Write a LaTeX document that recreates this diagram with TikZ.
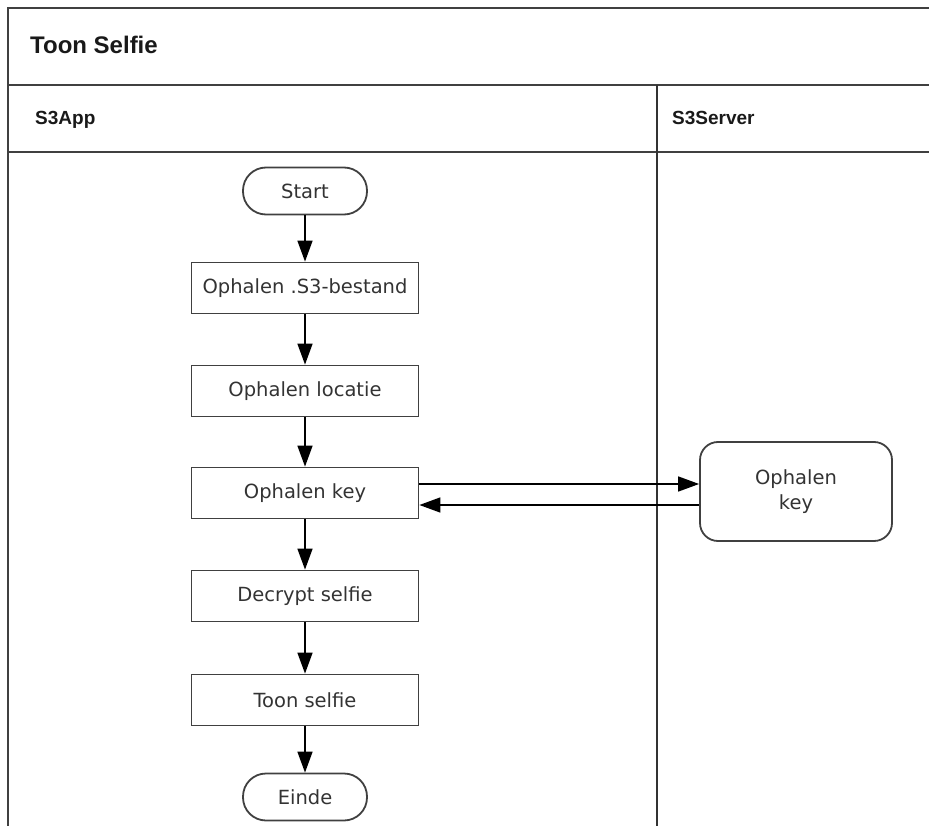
\documentclass[tikz,border=0pt]{standalone}
\usepackage{fontspec}
\setmainfont{DejaVu Sans}
\newfontfamily\headfont{Liberation Sans}
\usetikzlibrary{arrows.meta}

\begin{document}
\begin{tikzpicture}[x=1pt,y=-1pt,
  frame/.style={draw=black!75, line width=1.6pt},
  lane/.style={draw=black!80, line width=1.2pt},
  procbox/.style={draw=black!75, line width=1.8pt, minimum width=227pt, minimum height=51pt,
    inner sep=2pt, font=\fontsize{19.5}{25}\selectfont, text=black!80},
  terminal/.style={procbox, minimum width=124pt, minimum height=47pt, rounded corners=23pt},
  srvbox/.style={procbox, minimum width=192pt, minimum height=99pt, rounded corners=18pt, align=center},
  flow/.style={draw=black, line width=1.6pt, -{Triangle[width=15pt,length=21pt]}},
  titletext/.style={anchor=base west, inner sep=0pt, font=\headfont\bfseries\fontsize{24}{28}\selectfont, text=black!90},
  lanehead/.style={anchor=base west, inner sep=0pt, font=\headfont\bfseries\fontsize{19}{22}\selectfont, text=black!90}
]
\useasboundingbox (0,0) rectangle (929,826);

% pool frame and lane separators
\draw[frame] (929,8) -- (8,8) -- (8,826);
\draw[frame] (8,85) -- (929,85);
\draw[frame] (8,152) -- (929,152);
\draw[lane] (657,85) -- (657,826);

% headers
\node[titletext] (pool) at (30,54) {Toon Selfie};
\node[lanehead] (app) at (35,125) {S3App};
\node[lanehead] (server) at (672,125) {S3Server};

% app lane flow
\node[terminal] (start) at (305,191) {Start};
\node[procbox] (bestand) at (305,288) {Ophalen .S3-bestand};
\node[procbox] (locatie) at (305,391) {Ophalen locatie};
\node[procbox] (key) at (305,493) {Ophalen key};
\node[procbox] (decrypt) at (305,596) {Decrypt selfie};
\node[procbox] (toon) at (305,700) {Toon selfie};
\node[terminal] (einde) at (305,797) {Einde};

% server lane
\node[srvbox] (srvkey) at (796,491.5) {Ophalen\\key};

\draw[flow] (start) -- (bestand);
\draw[flow] (bestand) -- (locatie);
\draw[flow] (locatie) -- (key);
\draw[flow] (key) -- (decrypt);
\draw[flow] (decrypt) -- (toon);
\draw[flow] (toon) -- (einde);

% request to the server and the key coming back
\draw[flow] ([yshift=9pt]key.east) -- ([yshift=9pt]key.east -| srvkey.west);
\draw[flow] ([yshift=-12pt]key.east -| srvkey.west) -- ([yshift=-12pt]key.east);
\end{tikzpicture}
\end{document}
